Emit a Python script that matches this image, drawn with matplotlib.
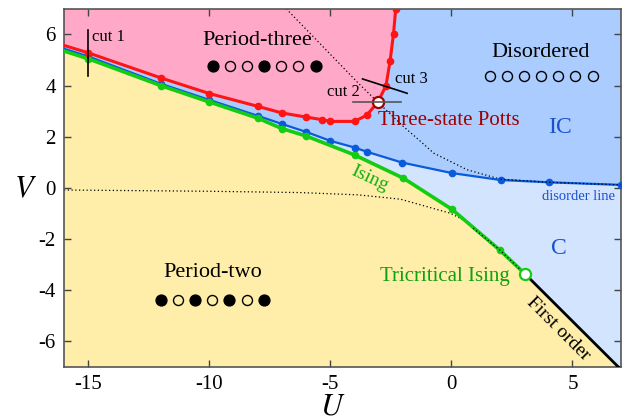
import matplotlib
matplotlib.use('Agg')
import matplotlib.pyplot as plt
from matplotlib.patches import Polygon

plt.rcParams['font.family'] = ['Liberation Serif', 'DejaVu Serif']
plt.rcParams['mathtext.fontset'] = 'stix'
plt.rcParams['axes.unicode_minus'] = False

# period-three boundary (red), first point is the left edge
red_u = [-16, -15, -12, -10, -8, -7, -6, -5.35, -5, -4, -3.5, -3.04, -2.7, -2.53, -2.39, -2.3]
red_v = [5.57, 5.28, 4.30, 3.69, 3.19, 2.93, 2.77, 2.67, 2.6, 2.6, 2.84, 3.35, 4.0, 4.98, 6.03, 7.0]

# disorder line (blue)
blue_u = [-16, -15, -12, -10, -8, -7, -6, -5, -4, -3.48, -2.03, 0.03, 2.03, 4.04, 7.0]
blue_v = [5.44, 5.14, 4.07, 3.44, 2.82, 2.5, 2.19, 1.84, 1.58, 1.41, 0.99, 0.58, 0.31, 0.22, 0.12]

# Ising line (green) ending at tricritical point
green_u = [-16, -15, -12, -10, -8, -7, -6, -4, -1.98, 0.03, 2.0, 3.03]
green_v = [5.35, 5.05, 4.0, 3.36, 2.73, 2.32, 2.03, 1.29, 0.38, -0.84, -2.43, -3.35]

# first-order line
first_u = [3.03, 6.9]
first_v = [-3.35, -7.0]

potts_pt = (-3.04, 3.35)
tric_pt = (3.03, -3.35)

# dotted guide lines
dot1_u = [-16, -10, -6.27, -3.85, -2.1, -0.04, 0.5, 0.9, 2.0, 3.03]
dot1_v = [-0.08, -0.13, -0.18, -0.27, -0.44, -0.99, -1.25, -1.57, -2.43, -3.35]
dot2_u = [-6.82, -3.85, -3.04, -1.98, -1.43, -0.73, 0.65, 2.03, 4.04, 7.0]
dot2_v = [7.0, 4.1, 3.35, 2.4, 1.95, 1.36, 0.71, 0.34, 0.22, 0.12]

# cuts
cut1_u, cut1_v = [-15, -15], [6.17, 4.36]
cut2_u, cut2_v = [-4.05, -2.07], [3.35, 3.35]
cut3_u, cut3_v = [-3.67, -1.83], [4.26, 3.70]

# chain pictograms (u start, v, pattern: 1 filled, 0 open)
chain3 = (-9.86, 4.78, [1, 0, 0, 1, 0, 0, 1])
chain2 = (-12.0, -4.39, [1, 0, 1, 0, 1, 0, 1])
chaind = (1.58, 4.39, [0, 0, 0, 0, 0, 0, 0])
chain_step = 0.708

c_pink = '#ffa8c8'
c_ic = '#aaccff'
c_c = '#d3e4ff'
c_yel = '#ffeeaa'
c_red = '#ff1414'
c_green = '#14cc14'
c_blue = '#0a5adc'

fig = plt.figure(figsize=(6.24, 4.2), dpi=100)
ax = fig.add_axes([0.1026, 0.126, 0.8924, 0.853])
ax.set_facecolor(c_ic)
ax.set_xlim(-16, 7)
ax.set_ylim(-7, 7)

ax.add_patch(Polygon(list(zip(blue_u, blue_v)) + [(7, -7), (-16, -7)], closed=True,
                     facecolor=c_c, edgecolor='none', zorder=1))
ax.add_patch(Polygon(list(zip(green_u + first_u, green_v + first_v)) + [(-16, -7)], closed=True,
                     facecolor=c_yel, edgecolor='none', zorder=1))
ax.add_patch(Polygon(list(zip(red_u, red_v)) + [(-16, 7)], closed=True,
                     facecolor=c_pink, edgecolor='none', zorder=1))

dots = (0, (1, 2))
ax.plot(dot1_u, dot1_v, ls=dots, color='black', lw=0.9, zorder=2)
ax.plot(dot2_u, dot2_v, ls=dots, color='black', lw=0.9, zorder=2)

ax.plot(blue_u, blue_v, '-', color=c_blue, lw=1.6, zorder=3)
ax.plot(blue_u[1:], blue_v[1:], 'o', color=c_blue, ms=4.5, zorder=3)
ax.plot(green_u, green_v, '-', color=c_green, lw=2.6, zorder=4)
ax.plot(green_u[1:-1], green_v[1:-1], 'o', color=c_green, ms=4.5, zorder=4)
ax.plot(first_u, first_v, '-', color='black', lw=2.0, zorder=4)
ax.plot(red_u, red_v, '-', color=c_red, lw=2.2, zorder=5)
ax.plot(red_u[1:], red_v[1:], 'o', color=c_red, ms=4.5, zorder=5)
ax.plot(dot1_u[-3:], dot1_v[-3:], ls=dots, color='black', lw=0.9, zorder=5)
ax.plot(dot2_u[-3:], dot2_v[-3:], ls=dots, color='black', lw=0.9, zorder=5)

ax.plot(*potts_pt, 'o', ms=8, mfc='white', mec='#a00000', mew=1.6, zorder=6)
ax.plot(*tric_pt, 'o', ms=8, mfc='white', mec=c_green, mew=1.6, zorder=6)

ax.plot(cut1_u, cut1_v, '-', color='black', lw=1.2, zorder=7)
ax.plot(cut2_u, cut2_v, '-', color='#555555', lw=1.2, zorder=7)
ax.plot(cut3_u, cut3_v, '-', color='black', lw=1.2, zorder=7)

for u0, v0, pat in [chain3, chain2, chaind]:
    for i, f in enumerate(pat):
        ax.plot(u0 + i * chain_step, v0, 'o', ms=7.8 if f else 7.2,
                mfc='black' if f else 'none', mec='black', mew=1.0, zorder=8)

ax.text(-14.85, 5.9, 'cut 1', fontsize=12, ha='left', va='center', zorder=9)
ax.text(-3.77, 3.75, 'cut 2', fontsize=12, ha='right', va='center', zorder=9)
ax.text(-2.35, 4.24, 'cut 3', fontsize=12, ha='left', va='center', zorder=9)
ax.text(-8.0, 5.75, 'Period-three', fontsize=16, ha='center', va='center', zorder=9)
ax.text(3.7, 5.3, 'Disordered', fontsize=16, ha='center', va='center', zorder=9)
ax.text(-9.86, -3.3, 'Period-two', fontsize=16, ha='center', va='center', zorder=9)
ax.text(-3.02, 2.62, 'Three-state Potts', fontsize=15, color='#a00000', ha='left', va='center', zorder=9)
ax.text(4.48, 2.36, 'IC', fontsize=17, color='#1a50d0', ha='center', va='center', zorder=9)
ax.text(4.44, -2.35, 'C', fontsize=17, color='#1a50d0', ha='center', va='center', zorder=9)
ax.text(-3.36, 0.38, 'Ising', fontsize=14, color='#10b010', rotation=-25,
        ha='center', va='center', zorder=9)
ax.text(2.41, -3.45, 'Tricritical Ising', fontsize=15, color='#10a010', ha='right', va='center', zorder=9)
ax.text(4.4, -5.49, 'First order', fontsize=14, rotation=-45, ha='center', va='center', zorder=9)
ax.text(5.27, -0.34, 'disorder line', fontsize=10.5, color='#1a50d0', ha='center', va='center', zorder=9)

ax.set_xticks([-15, -10, -5, 0, 5])
ax.set_yticks([-6, -4, -2, 0, 2, 4, 6])
ax.tick_params(direction='in', top=True, right=True, length=5, width=1, color='#444444',
               labelsize=15, pad=6)
for s in ax.spines.values():
    s.set_color('#555555')
    s.set_linewidth(1.2)

fig.text(333 / 624, 1 - 407 / 420, '$U$', fontsize=22, ha='center', va='center')
fig.text(25 / 624, 1 - 190 / 420, '$V$', fontsize=22, ha='center', va='center')

fig.savefig('out.png', dpi=100)
